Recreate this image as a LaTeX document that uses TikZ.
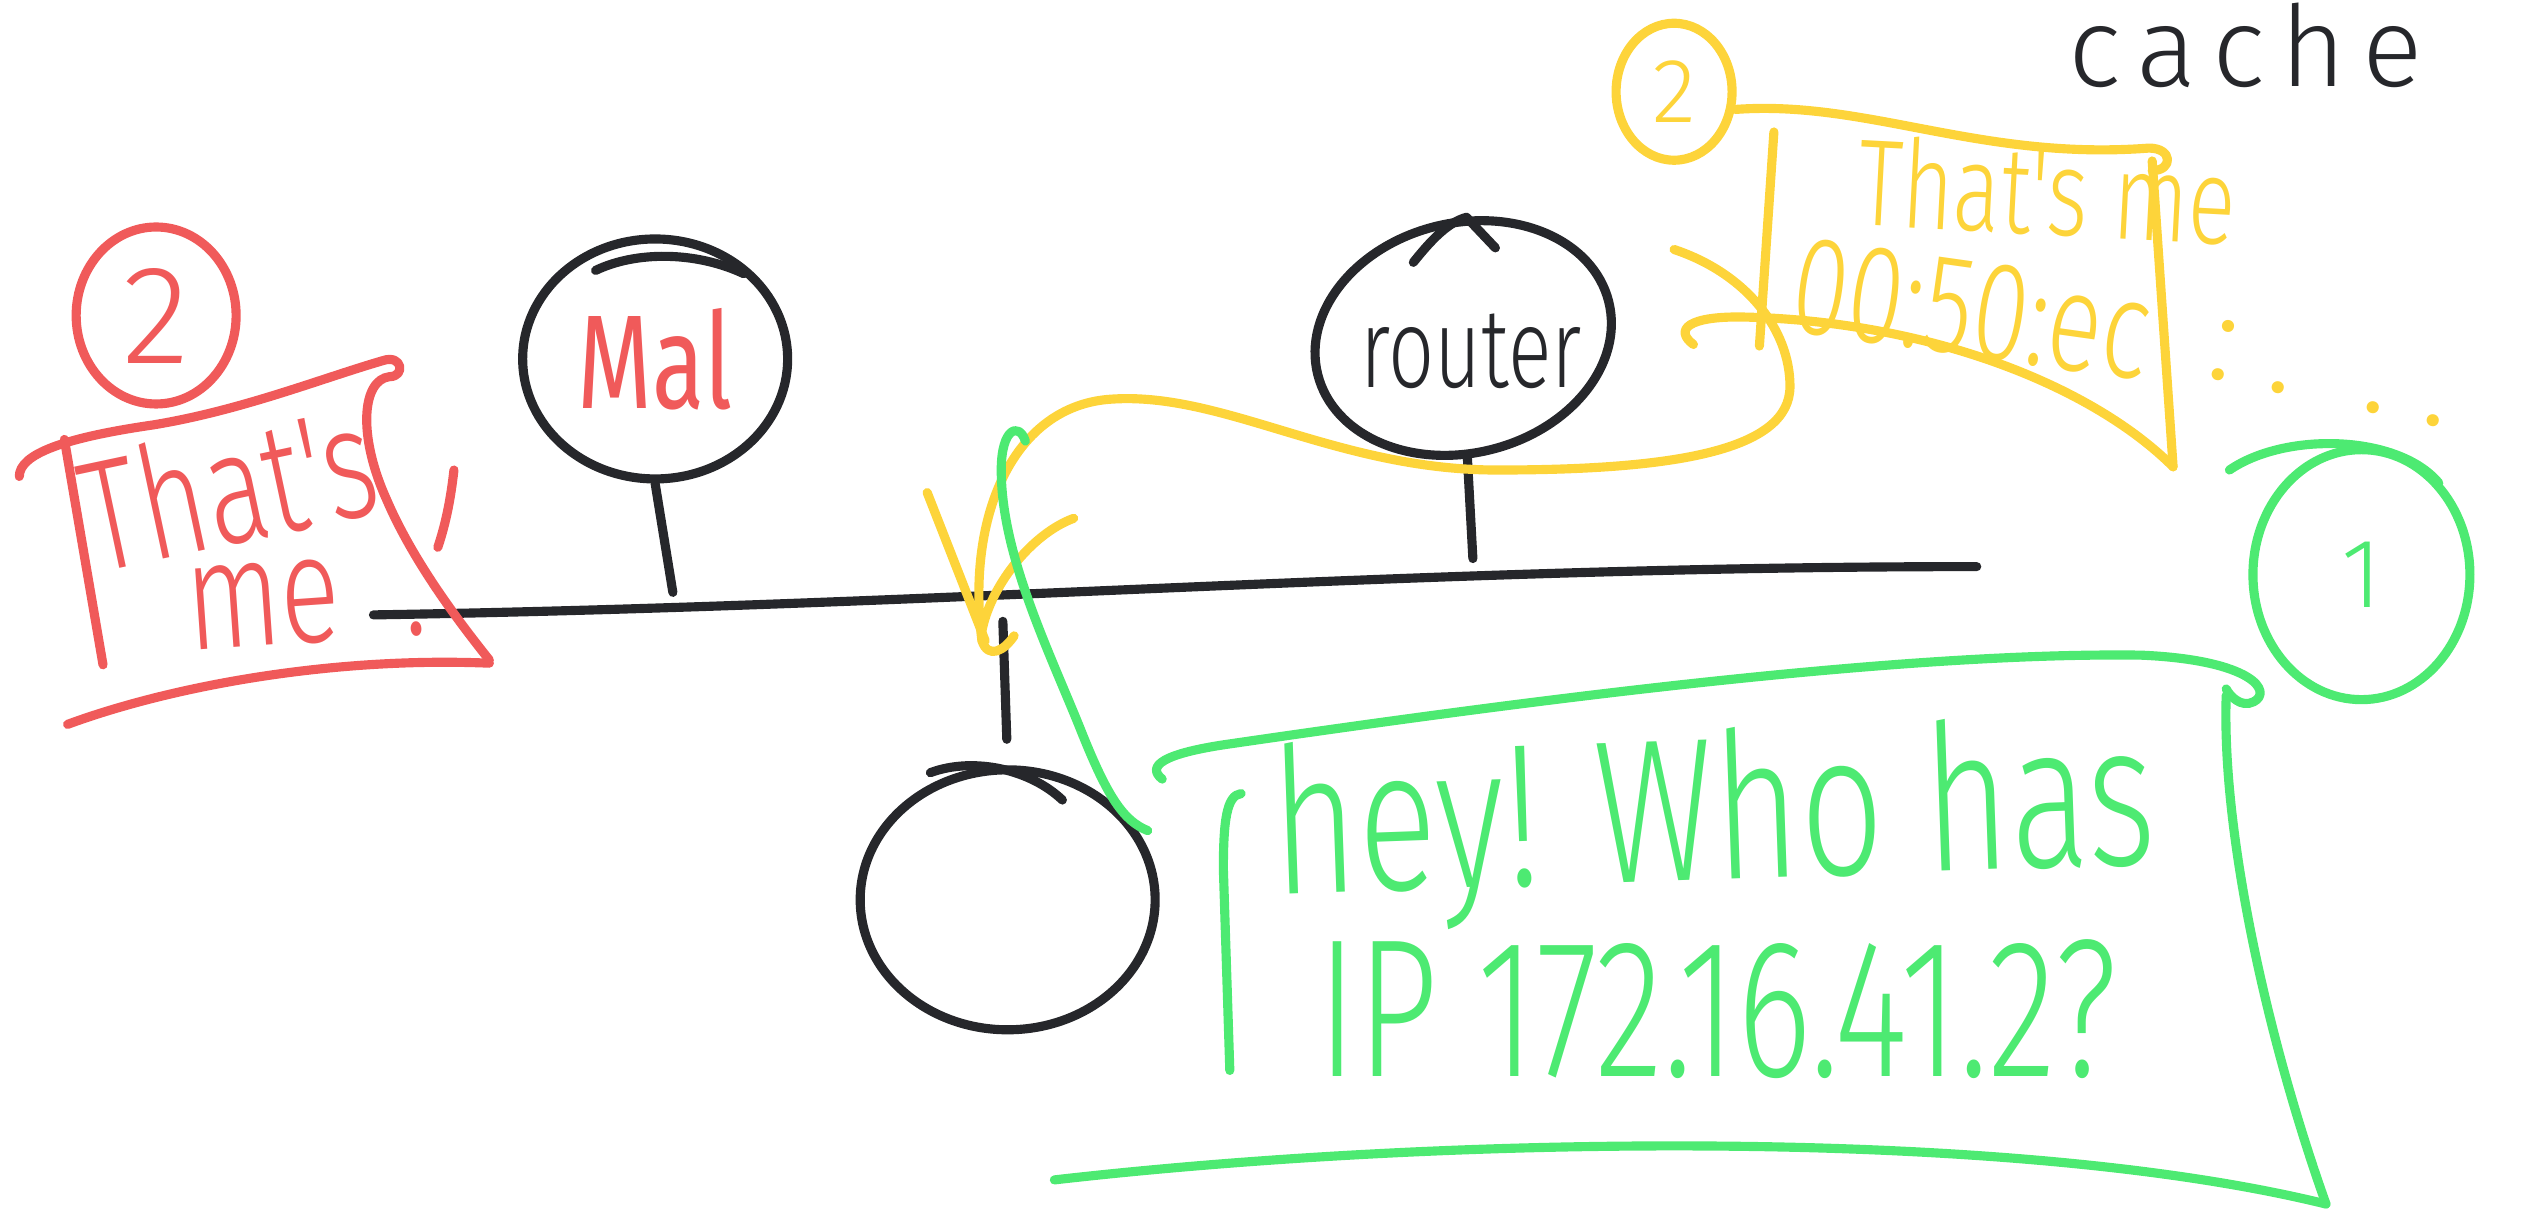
\documentclass[tikz,border=0pt]{standalone}
\usepackage{fontspec}
\usepackage{graphicx}
\newfontfamily\hand{Fira Sans Light}
\newfontfamily\handbold{Fira Sans}
\usetikzlibrary{positioning, shapes.geometric}

\definecolor{ink}{HTML}{26272B}
\definecolor{redink}{HTML}{F05A5A}
\definecolor{yellowink}{HTML}{FDD43A}
\definecolor{greenink}{HTML}{4DEA72}
\newcommand{\squish}[1]{\scalebox{0.72}[1]{#1}}
\newcommand{\pen}[1]{\hand\fontsize{#1}{#1}\selectfont}

\begin{document}
\begin{tikzpicture}[x=0.161mm, y=-0.161mm, line width=2.6pt, line cap=round, line join=round,
blob/.style ={ellipse, draw=ink, line width=2.6pt, inner sep=0pt},
tag/.style ={ellipse, draw, line width=2.6pt, inner sep=0pt},
scrawl/.style ={inner sep=0pt}]
\useasboundingbox (0,0) rectangle (1568,751);

% hosts
\node[blob, minimum width=26.5mm, minimum height=24mm, text=redink, font=\handbold\fontsize{38}{38}\selectfont] (mal) at (407,223) {\squish{Mal}};
\node[blob, rotate=14, minimum width=30mm, minimum height=23mm] (router) at (909,210) {};
\node[scrawl, text=ink, font=\pen{32}] (routertxt) at (914,218) {\squish{router}};
\node[blob, minimum width=29.5mm, minimum height=26mm] (host) at (626,559) {};
\draw[ink] (370,168) .. controls (395,156) and (432,156) .. (462,170);
\draw[ink] (878,163) .. controls (890,148) and (900,138) .. (911,135) -- (929,154);
\draw[ink] (578,480) .. controls (605,470) and (640,478) .. (660,497);

% the wire
\coordinate (wireL) at (232,382);
\coordinate (wireR) at (1228,352);
\coordinate (malfoot) at (418,368);
\coordinate (routerfoot) at (915,347);
\coordinate (hostwire) at (623,386);
\draw[ink] (wireL) .. controls (600,376) and (880,352) .. (wireR);
\draw[ink] (mal.south) -- (malfoot);
\draw[ink] (router.-102) -- (routerfoot);
\draw[ink, shorten >=2.6mm] (hostwire) -- (host.north);

\node[scrawl, text=ink, font=\pen{32}] (cache) at (1395,28) {\addfontfeature{LetterSpace=14}cache};

% red: Mal answers
\node[tag, draw=redink, text=redink, minimum width=16mm, minimum height=17.7mm, font=\pen{40}] (rtwo) at (97,196) {2};
\draw[redink] (12,296) .. controls (12,282) and (40,272) .. (95,264) .. controls (150,255) and (200,235) .. (238,224) .. controls (250,220) and (252,234) .. (242,234) .. controls (225,236) and (222,270) .. (240,310) .. controls (255,345) and (280,380) .. (304,410);
\draw[redink] (42,450) .. controls (110,425) and (210,408) .. (304,412);
\draw[redink] (40,273) -- (64,413);
\draw[redink] (282,292) .. controls (280,310) and (277,325) .. (272,340);
\node[scrawl, text=redink, rotate=12, font=\pen{45}] (rthat) at (142,302) {\squish{That's}};
\node[scrawl, text=redink, rotate=4, font=\pen{44}] (rme) at (190,374) {\squish{me\ \ .}};

% yellow: the router answers
\node[tag, draw=yellowink, text=yellowink, minimum width=11.6mm, minimum height=13.7mm, font=\pen{26}] (ytwo) at (1040,57) {2};
\draw[yellowink] (1078,68) .. controls (1160,62) and (1230,100) .. (1335,92) .. controls (1350,92) and (1350,106) .. (1337,106);
\draw[yellowink] (1337,100) -- (1350,290);
\draw[yellowink] (1102,82) -- (1093,215);
\draw[yellowink] (1052,214) .. controls (1040,205) and (1048,196) .. (1085,197) .. controls (1200,200) and (1300,240) .. (1350,290);
\node[scrawl, text=yellowink, rotate=-3, font=\pen{35}] (ythat) at (1272,118) {\squish{That's me}};
\node[scrawl, text=yellowink, rotate=-8, font=\pen{40}] (ymac) at (1225,192) {\squish{00:50:ec}};
\node[scrawl, text=yellowink, rotate=-12, font=\pen{36}] (ydots) at (1448,232) {:\ .\ \ .\ .};
\draw[yellowink] (1040,155) .. controls (1085,170) and (1112,205) .. (1112,240) .. controls (1112,280) and (1040,292) .. (930,292) .. controls (830,292) and (760,243) .. (690,248) .. controls (630,252) and (600,320) .. (610,398);
\draw[yellowink] (576,306) -- (612,398);
\draw[yellowink] (667,322) .. controls (640,332) and (615,365) .. (610,392);
\draw[yellowink] (610,398) .. controls (614,410) and (624,404) .. (630,395);

% green: who has the address
\draw[greenink] (637,274) .. controls (633,262) and (622,266) .. (622,292) .. controls (622,345) and (652,405) .. (672,455) .. controls (688,495) and (698,510) .. (713,516);
\node[tag, draw=greenink, text=greenink, minimum width=21.7mm, minimum height=25mm, font=\pen{28}] (gone) at (1467,357) {1};
\draw[greenink] (1385,292) .. controls (1420,268) and (1490,270) .. (1515,300);
\draw[greenink] (722,484) .. controls (712,476) and (722,468) .. (765,462) .. controls (950,435) and (1180,405) .. (1330,407) .. controls (1400,410) and (1412,430) .. (1400,436) .. controls (1392,440) and (1385,432) .. (1383,428);
\draw[greenink] (1383,432) .. controls (1380,520) and (1410,650) .. (1445,748);
\draw[greenink] (655,733) .. controls (900,705) and (1250,700) .. (1445,748);
\draw[greenink] (771,493) .. controls (762,494) and (760,510) .. (760,540) -- (764,665);
\node[scrawl, text=greenink, rotate=2, font=\pen{58}] (ghey) at (1065,512) {\squish{hey! Who has}};
\node[scrawl, text=greenink, font=\pen{56}] (gip) [below=1mm of ghey] {\squish{IP 172.16.41.2?}};
\end{tikzpicture}
\end{document}
